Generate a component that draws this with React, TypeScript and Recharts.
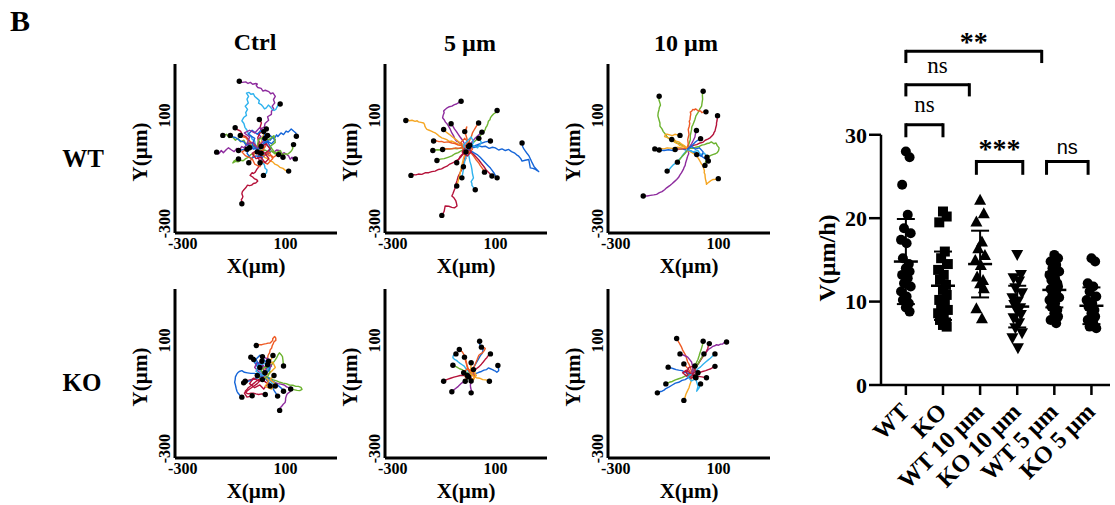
import React from "react";
import {
  ComposedChart,
  Scatter,
  XAxis,
  YAxis,
  ReferenceLine,
  ErrorBar,
} from "recharts";

const SERIF = "'Liberation Serif', 'Times New Roman', serif";
const SANS = "'Liberation Sans', Arial, sans-serif";

type Pt = [number, number];

const PAL = {
  blue: "#1565d8",
  orange: "#ee5a24",
  yellow: "#f5a623",
  purple: "#8e2c9e",
  green: "#6cb32f",
  lblue: "#2fb2ee",
  red: "#b5123a",
};

// ---- cell tracks, x / y in µm ----
const wtCtrlTracks: Pt[][] = [
  [[-8,-20],[2,-5],[-6,10],[4,22],[-5,30],[8,42],[5,50],[18,58],[20,70],[34,82],[30,95],[45,104],[45,115],[54,124],[48,134],[58,146],[53,158],[60,170],[51,183],[42,180],[35,188],[21,193],[12,190],[5,200],[-8,203],[-14,210],[-10,216],[-16,218],[-28,215],[-37,222],[-46,218],[-55,224],[-68,222],[-80,226]],
  [[-12,-22],[-18,-8],[-20,5],[-30,12],[-35,25],[-45,32],[-50,45],[-58,56],[-62,70],[-70,80],[-63,92],[-52,100],[-55,110],[-48,122],[-57,134],[-45,146],[-50,160],[-44,170],[-52,182],[-42,185],[-35,178],[-25,180],[-20,170],[-10,162],[-2,155],[-5,145],[5,140],[10,135],[18,124],[25,128],[33,138],[40,132],[48,122],[55,118],[62,122],[65,128],[72,140],[79,142]],
  [[-8,-28],[-2,-38],[0,-45],[8,-55],[5,-62],[4,-72],[-2,-80],[-6,-92],[-12,-100],[-18,-110],[-25,-115],[-30,-112],[-38,-122],[-28,-128],[-20,-135],[-12,-138],[-8,-143],[-16,-150],[-25,-152],[-32,-158],[-40,-160],[-48,-158],[-55,-168],[-62,-175],[-68,-182],[-70,-190],[-66,-200],[-68,-206],[-72,-212],[-69,-220],[-70,-227]],
  [[-10,-25],[-4,-38],[0,-50],[8,-58],[12,-75],[18,-84],[20,-95],[28,-102],[26,-112],[20,-118],[14,-122]],
  [[-8,-22],[0,-8],[8,-12],[18,2],[25,-5],[35,12],[40,8],[50,20],[55,12],[65,28],[70,22],[82,35],[92,29],[102,42],[110,38],[122,50],[131,42],[140,35],[142,23]],
  [[-6,-28],[5,-30],[15,-35],[25,-45],[35,-42],[45,-32],[55,-36],[65,-28],[75,-30],[85,-42],[95,-38],[105,-45],[112,-50],[118,-62],[125,-55],[132,-64],[138,-61]],
  [[-10,-24],[-22,-14],[-30,-18],[-42,-6],[-50,-8],[-62,-20],[-70,-15],[-80,-28],[-90,-22],[-100,-34],[-110,-28],[-122,-20],[-130,-26],[-142,-38],[-150,-30],[-160,-42],[-168,-36]],
  [[-12,-26],[-22,-10],[-30,-15],[-42,-2],[-55,-5],[-62,8],[-75,2],[-85,15],[-95,8],[-108,22],[-120,18],[-130,30],[-144,26]],
  [[-10,-20],[-20,-12],[-25,-5],[-35,-2],[-42,8],[-48,15],[-55,22],[-65,25],[-70,32],[-75,42],[-82,45],[-90,48],[-96,54]],
  [[-12,-22],[-25,-25],[-35,-18],[-45,-10],[-55,-8],[-62,2],[-75,5],[-85,12],[-95,18],[-105,20],[-115,26]],
  [[-8,-20],[-15,-14],[-20,-8],[-28,-6],[-35,2],[-42,5],[-50,12],[-55,18],[-62,20],[-70,22],[-76,26]],
  [[-10,-28],[-18,-36],[-25,-42],[-35,-45],[-45,-55],[-55,-60],[-65,-68],[-75,-66],[-85,-72],[-95,-70],[-105,-76],[-100,-68],[-95,-66],[-88,-58],[-83,-61]],
  [[-8,-26],[-12,-34],[-18,-40],[-24,-45],[-28,-55],[-32,-62],[-35,-65],[-40,-72],[-43,-75]],
  [[-10,-30],[-4,-42],[-8,-55],[-2,-65],[1,-75]],
  [[-10,-22],[-4,-12],[0,-5],[6,2],[8,12],[12,22],[15,30],[22,40],[25,50]],
  [[-6,-26],[2,-34],[10,-32],[18,-42],[28,-40],[36,-50],[45,-48],[52,-56],[60,-50],[66,-44],[73,-45]],
  [[-8,-30],[0,-40],[10,-45],[18,-55],[30,-60],[40,-68],[50,-72],[58,-80],[70,-85],[78,-92],[90,-96],[100,-104],[112,-106]],
  [[-10,-25],[-28,-20],[-45,-22],[-62,-26],[-83,-30]],
  [[-6,-24],[8,-30],[20,-28],[32,-35],[45,-32],[58,-42],[70,-40],[82,-48],[95,-42],[108,-44],[118,-36],[124,-30],[128,-22],[126,-14],[131,-8]],
  [[-8,-22],[5,-5],[18,10],[30,26]],
  [[-10,-22],[-4,-10],[-5,5],[-8,18],[0,35],[4,48],[2,60],[6,72],[-2,85]],
  [[-12,-18],[0,-10],[15,-20],[25,-10],[10,-30],[-10,-35]],
  [[-5,-20],[20,-5],[40,-20],[25,-45],[5,-40]],
  [[-10,-28],[10,-15],[30,5],[45,-5],[60,10],[40,25],[20,15]],
  [[-10,-25],[-30,-10],[-20,15],[-45,30],[-30,45],[-10,30],[5,45],[20,30],[10,10],[30,0],[45,-20],[30,-40],[10,-55],[-15,-50],[-35,-60],[-50,-40],[-40,-20]],
  [[-5,-30],[15,-50],[35,-35],[50,-60],[30,-80],[10,-70],[0,-90],[-20,-80],[-30,-60],[-55,-50],[-70,-35],[-50,-25]],
  [[-12,-20],[-5,10],[15,20],[35,10],[55,25],[60,0],[40,-15],[60,-40],[80,-30],[90,-55]],
  [[-10,-28],[-30,-40],[-15,-60],[5,-55],[20,-75],[35,-60],[20,-40],[40,-25],[25,-5],[5,-15]],
  [[-8,-22],[-25,0],[-50,-5],[-40,20],[-60,35],[-40,45],[-20,35],[0,55],[15,40]],
];
const wtCtrlColors = [PAL.purple, PAL.lblue, PAL.red, PAL.lblue, PAL.blue, PAL.purple, PAL.purple, PAL.green, PAL.red, PAL.blue, PAL.orange, PAL.green, PAL.orange, PAL.red, PAL.yellow, PAL.orange, PAL.yellow, PAL.blue, PAL.green, PAL.purple, PAL.red, PAL.orange, PAL.lblue, PAL.blue, PAL.blue, PAL.orange, PAL.green, PAL.red, PAL.purple];

const wt5Tracks: Pt[][] = [
  [[-15,-22],[-22,-15],[-30,-10],[-38,-4],[-45,2],[-52,5],[-57,11],[-62,22],[-70,35],[-76,48],[-83,60],[-88,68],[-95,75],[-100,84],[-106,91],[-104,100],[-100,110],[-102,116],[-96,122],[-88,128],[-80,132],[-70,134],[-60,140],[-52,142],[-45,146],[-40,150],[-34,152]],
  [[-12,-18],[-2,-12],[5,-8],[12,0],[20,5],[28,12],[34,17],[40,25],[48,32],[55,40],[60,48],[62,55],[66,60],[70,70],[72,78],[78,84],[80,91],[85,98],[92,105],[100,110],[106,118]],
  [[-18,-18],[-28,-12],[-40,-8],[-55,-2],[-70,5],[-80,4],[-90,10],[-100,14],[-109,17],[-118,22],[-125,28],[-130,32],[-135,35],[-142,38],[-150,42],[-158,45],[-167,48],[-172,55],[-175,60],[-176,66],[-180,72],[-190,74],[-200,76],[-205,80],[-213,78],[-225,82],[-235,80],[-242,84],[-249,81]],
  [[-10,-28],[-18,-38],[-28,-45],[-36,-55],[-44,-63],[-55,-68],[-65,-75],[-78,-80],[-89,-88],[-100,-92],[-110,-98],[-122,-100],[-135,-106],[-148,-108],[-160,-112],[-172,-112],[-187,-118],[-200,-117],[-210,-120],[-220,-119],[-229,-122]],
  [[-15,-25],[-12,-38],[-18,-51],[-20,-62],[-25,-75],[-28,-88],[-31,-100],[-38,-112],[-45,-125],[-50,-142],[-57,-161],[-58,-170],[-62,-180],[-66,-190],[-70,-198],[-62,-205],[-55,-215],[-52,-225],[-50,-235],[-60,-242],[-70,-240],[-82,-236],[-96,-235],[-98,-245],[-100,-255],[-104,-262],[-109,-270]],
  [[-10,-22],[-5,-26],[8,-20],[20,-18],[32,-12],[47,-16],[60,-14],[75,-22],[88,-18],[99,-20],[112,-28],[125,-24],[138,-30],[151,-26],[162,-34],[175,-40],[182,-46],[190,-51],[198,-60],[203,-69],[215,-66],[229,-63],[232,-78],[235,-94],[245,-96],[255,-100],[262,-104],[268,-108],[258,-98],[250,-90],[246,-82],[242,-75],[236,-62],[230,-50],[222,-40],[216,-32],[210,-24],[205,-15],[206,-8],[203,-2]],
  [[-15,-25],[-8,-35],[-5,-45],[-2,-58],[0,-70],[5,-85],[8,-100],[10,-115],[14,-131],[10,-138],[5,-145],[8,-152],[8,-159],[15,-168],[21,-175]],
  [[-20,-18],[-32,-12],[-45,-10],[-58,-4],[-70,-2],[-85,2],[-100,0],[-110,4],[-120,3],[-130,6],[-141,5]],
  [[-18,-15],[-28,-6],[-40,0],[-50,8],[-60,15],[-70,22],[-80,30],[-92,38],[-102,48]],
  [[-15,-15],[-24,0],[-30,10],[-38,20],[-45,30],[-52,40],[-60,50],[-66,60],[-73,69]],
  [[-18,-22],[-35,-20],[-50,-24],[-65,-22],[-80,-25],[-95,-24],[-110,-28],[-128,-27],[-144,-30]],
  [[-15,-20],[-28,-18],[-40,-22],[-55,-20],[-70,-24],[-88,-23],[-106,-26]],
  [[-20,-25],[-32,-30],[-45,-38],[-58,-42],[-70,-50],[-85,-55],[-100,-60],[-115,-62],[-128,-67]],
  [[-18,-28],[-24,-36],[-30,-45],[-38,-52],[-42,-60],[-48,-68],[-51,-75]],
  [[-12,-25],[-20,-45],[-15,-60],[-28,-75],[-25,-90]],
  [[-14,-18],[-10,10],[-18,35],[-12,57],[-20,40]],
  [[-16,-28],[-20,-45],[-25,-60],[-30,-80],[-35,-100],[-38,-115],[-42,-130],[-46,-145],[-51,-161]],
  [[-10,-30],[-14,-50],[-20,-70],[-25,-100],[-31,-131]],
  [[-12,-15],[-4,-2],[0,10],[6,22],[10,35],[16,45],[22,55],[28,64],[34,72]],
  [[-10,-18],[5,-2],[20,15],[35,28],[47,38]],
  [[-8,-20],[20,-12],[40,-5],[60,2],[80,5]],
  [[-10,-26],[0,-36],[10,-45],[18,-55],[25,-65],[34,-75],[40,-85],[50,-98],[57,-110]],
  [[-8,-24],[5,-35],[15,-45],[25,-55],[35,-65],[45,-78],[55,-90],[62,-100],[70,-108],[78,-116],[86,-124]],
  [[-10,-22],[2,-30],[15,-38],[28,-45],[40,-55],[50,-65],[60,-75],[70,-85],[80,-95],[88,-105],[95,-115],[100,-124],[106,-131]],
  [[-14,-20],[10,-10],[30,-20],[45,0],[35,15]],
  [[-18,-20],[-5,0],[-20,15],[-35,0],[-25,-30],[-5,-40],[10,-25],[0,-10]],
  [[-16,-22],[0,-15],[15,0],[5,20],[-10,5],[-25,-10],[-15,-35]],
  [[-18,-20],[-30,-35],[-10,-50],[5,-35],[-5,-15]],
];
const wt5Colors = [PAL.purple, PAL.green, PAL.yellow, PAL.red, PAL.red, PAL.blue, PAL.lblue, PAL.orange, PAL.yellow, PAL.purple, PAL.green, PAL.orange, PAL.green, PAL.red, PAL.orange, PAL.orange, PAL.yellow, PAL.lblue, PAL.orange, PAL.purple, PAL.blue, PAL.orange, PAL.red, PAL.blue, PAL.lblue, PAL.orange, PAL.lblue, PAL.red];

const wt10Tracks: Pt[][] = [
  [[-22,-24],[-30,-16],[-40,-12],[-50,-5],[-63,-2],[-72,5],[-85,10],[-95,15],[-102,23],[-108,32],[-115,40],[-120,50],[-128,60],[-128,72],[-132,85],[-136,98],[-135,109],[-132,120],[-130,130],[-126,138],[-128,146],[-132,158],[-131,171]],
  [[-20,-20],[-15,-5],[-10,10],[-10,25],[-5,48],[-4,58],[0,65],[4,75],[8,85],[12,98],[20,110],[26,122],[34,134],[36,148],[38,160],[37,175],[40,189]],
  [[-22,-22],[-18,-5],[-20,10],[-15,30],[-18,48],[-14,60],[-12,70],[-14,78],[-11,85],[-10,95],[-8,105],[-10,112],[-5,115],[0,122],[5,120],[10,124],[15,121],[22,116],[30,116],[35,110],[40,112],[45,116],[51,113]],
  [[-20,-24],[-8,-16],[5,-10],[15,-8],[28,-2],[38,0],[48,8],[58,12],[67,17],[74,24],[80,30],[82,36],[86,42],[88,50],[90,58],[92,65],[92,72],[94,80],[95,88],[94,94],[96,99]],
  [[-20,-25],[-12,-15],[-5,-5],[2,8],[8,20],[10,32],[14,44]],
  [[-18,-24],[-8,-15],[0,-8],[8,0],[15,5],[22,10],[30,14]],
  [[-22,-28],[-18,-32],[-16,-42],[-20,-50],[-22,-57],[-24,-63],[-28,-75],[-30,-85],[-34,-92],[-37,-100],[-44,-112],[-50,-120],[-56,-130],[-63,-137],[-72,-145],[-80,-152],[-90,-160],[-102,-168],[-110,-175],[-120,-182],[-130,-186],[-141,-192],[-152,-194],[-165,-196],[-178,-198],[-193,-198]],
  [[-24,-22],[-35,-16],[-50,-12],[-58,-5],[-70,0],[-80,8],[-90,15],[-98,18],[-110,22],[-106,30],[-100,30],[-90,28],[-80,25],[-70,30],[-60,28],[-55,24],[-50,26]],
  [[-26,-26],[-42,-20],[-60,-18],[-80,-22],[-100,-20],[-112,-24],[-125,-22],[-136,-26],[-148,-24]],
  [[-26,-28],[-42,-24],[-60,-26],[-78,-30],[-95,-27],[-112,-30],[-131,-28]],
  [[-24,-24],[-35,-22],[-45,-25],[-58,-24],[-69,-26]],
  [[-22,-20],[-34,-12],[-45,-5],[-55,2],[-65,5],[-74,10],[-82,11]],
  [[-24,-30],[-35,-42],[-45,-55],[-55,-65],[-65,-75],[-75,-82],[-85,-92],[-92,-100],[-100,-106]],
  [[-22,-30],[-30,-40],[-40,-50],[-50,-62],[-60,-73]],
  [[-20,-26],[-10,-22],[0,-22],[12,-18],[25,-15],[35,-10],[45,-8],[55,-4],[65,-2],[72,2],[82,-5],[90,-2],[95,-12],[102,-20],[100,-30],[95,-38],[88,-42],[80,-44],[70,-48],[62,-52],[55,-55],[52,-62],[50,-70],[48,-78],[47,-85]],
  [[-18,-28],[-5,-32],[5,-38],[15,-44],[25,-48],[35,-52],[45,-58],[52,-64],[60,-69]],
  [[-20,-30],[-10,-34],[0,-40],[8,-45],[15,-51],[22,-60],[28,-70],[34,-80],[40,-88],[42,-96],[45,-105],[44,-112],[47,-118],[48,-130],[50,-140],[52,-148],[53,-155],[58,-150],[65,-145],[72,-140],[79,-137],[88,-136],[99,-134]],
  [[-24,-26],[0,-35],[20,-30],[30,-45],[45,-40],[55,-55]],
  [[-22,-26],[-5,-15],[10,-25],[25,-20],[40,-35],[35,-50],[15,-45]],
];
const wt10Colors = [PAL.green, PAL.green, PAL.orange, PAL.red, PAL.purple, PAL.blue, PAL.purple, PAL.yellow, PAL.yellow, PAL.blue, PAL.orange, PAL.yellow, PAL.lblue, PAL.green, PAL.green, PAL.blue, PAL.yellow, PAL.lblue, PAL.blue];

const koCtrlTracks: Pt[][] = [
  [[15,-30],[22,-18],[20,-5],[26,8],[25,20],[30,32],[32,45],[38,55],[40,65],[46,72],[48,80],[52,88],[55,95],[62,100],[62,108],[58,114],[55,112],[50,106],[50,100],[44,94],[40,90],[32,90],[25,88],[15,86],[8,84],[-3,84],[-14,81]],
  [[20,-35],[32,-44],[45,-50],[58,-55],[70,-60],[82,-62],[95,-65],[104,-72],[112,-75],[118,-82],[118,-90],[110,-95],[105,-100],[102,-108],[100,-115],[100,-122],[98,-130],[92,-135],[88,-140],[84,-145],[80,-148],[78,-152],[77,-159]],
  [[18,-30],[28,-36],[40,-40],[52,-46],[65,-50],[78,-55],[90,-58],[102,-60],[115,-65],[128,-66],[140,-70],[150,-70],[160,-74],[164,-81],[155,-86],[145,-85],[132,-82],[120,-80]],
  [[15,-28],[2,-28],[-10,-25],[-22,-22],[-35,-22],[-48,-20],[-60,-18],[-70,-12],[-80,-15],[-86,-20],[-90,-25],[-95,-35],[-96,-45],[-98,-55],[-95,-65],[-92,-78],[-89,-88],[-85,-95],[-80,-100],[-76,-105],[-70,-110]],
  [[20,-28],[28,-15],[35,-5],[42,5],[50,15],[58,25],[65,35],[70,45],[76,54],[82,48],[88,40],[90,25],[92,5]],
  [[15,-35],[5,-40],[-5,-45],[-15,-52],[-25,-60],[-35,-68],[-45,-75],[-50,-82],[-57,-88],[-52,-95],[-45,-98],[-35,-95],[-25,-95],[-15,-98],[-5,-100],[8,-98],[21,-100]],
  [[18,-30],[24,-18],[28,-5],[34,8],[38,20],[45,32],[51,44]],
  [[16,-28],[8,-18],[0,-10],[-8,0],[-15,10],[-20,18],[-25,25],[-30,32],[-35,38]],
  [[20,-30],[15,-10],[10,8],[8,23]],
  [[14,-32],[-10,-38],[-35,-45],[-57,-51]],
  [[16,-26],[0,-5],[-12,15],[-24,29]],
  [[20,-28],[28,0],[34,23]],
  [[20,-36],[30,-50],[40,-69]],
  [[22,-34],[40,-50],[60,-69]],
  [[20,-38],[30,-50],[40,-60],[48,-72],[55,-85],[62,-95],[69,-106]],
  [[22,-32],[35,-40],[50,-50],[62,-60],[75,-70],[85,-78],[92,-88]],
  [[14,-32],[-15,-40],[-40,-50],[-63,-57]],
  [[18,-32],[0,-20],[-20,0],[-10,20],[10,10],[30,-10],[45,5],[35,30],[10,40]],
  [[18,-32],[-10,-60],[-40,-80],[-60,-95],[-50,-110],[-30,-105]],
  [[18,-32],[40,-20],[60,0],[50,20],[30,10]],
  [[18,-32],[-5,-50],[-25,-40],[-40,-60],[-20,-75],[0,-65],[15,-80],[30,-60],[10,-45]],
  [[18,-32],[35,-50],[20,-70],[45,-80],[60,-60],[40,-45],[55,-30]],
  [[18,-32],[5,-10],[25,5],[40,-15],[30,-35],[5,-45],[-10,-30]],
  [[18,-32],[-15,-15],[-5,10],[20,15],[35,0],[20,-20]],
  [[18,-32],[40,-5],[20,25],[0,45],[-15,30],[0,0]],
];
const koCtrlColors = [PAL.orange, PAL.purple, PAL.green, PAL.blue, PAL.green, PAL.red, PAL.yellow, PAL.blue, PAL.purple, PAL.red, PAL.lblue, PAL.red, PAL.red, PAL.lblue, PAL.blue, PAL.blue, PAL.blue, PAL.purple, PAL.red, PAL.yellow, PAL.red, PAL.yellow, PAL.green, PAL.lblue, PAL.blue];

const ko5Tracks: Pt[][] = [
  [[2,-24],[10,-12],[15,0],[22,12],[30,25],[36,35],[42,45],[48,52],[50,60],[52,68],[48,75],[44,80],[38,85],[40,92],[38,97]],
  [[0,-22],[-4,-10],[-8,0],[-12,12],[-15,25],[-18,35],[-22,45],[-26,52],[-30,58],[-36,62],[-41,66]],
  [[4,-22],[12,-5],[20,10],[28,28],[35,45],[42,50],[50,55],[56,62],[60,70],[52,74],[45,75]],
  [[4,-24],[15,-15],[25,-5],[35,2],[45,12],[52,20],[60,30],[66,36],[70,42],[75,46],[80,50]],
  [[4,-28],[15,-25],[25,-22],[35,-18],[45,-15],[55,-10],[65,-8],[72,-2],[80,-5],[88,-8],[95,-12],[100,-14],[105,-18],[112,-12],[112,-5],[108,2],[109,7]],
  [[0,-28],[-12,-26],[-25,-30],[-38,-30],[-50,-33],[-62,-36],[-75,-40],[-88,-44],[-102,-51]],
  [[3,-30],[14,-32],[25,-38],[38,-40],[50,-45],[62,-46],[76,-51]],
  [[0,-30],[-10,-40],[-20,-50],[-32,-58],[-45,-70],[-58,-80],[-70,-90]],
  [[2,-30],[6,-42],[5,-55],[2,-65],[3,-75],[6,-85],[5,-94]],
  [[0,-22],[-8,-12],[-15,-5],[-22,5],[-30,10],[-38,15],[-45,20],[-52,26],[-60,30],[-66,36],[-65,42],[-60,48],[-54,50]],
  [[-1,-24],[-10,-20],[-20,-15],[-30,-8],[-40,-5],[-52,2],[-66,8]],
  [[2,-24],[-4,-12],[-10,0],[-14,15],[-18,28],[-21,38]],
  [[2,-26],[4,0],[5,17]],
  [[2,-26],[-10,-22],[-24,-20]],
  [[4,-28],[-5,-40],[-18,-51]],
  [[2,-26],[8,-15],[14,-8]],
  [[2,-26],[20,-30],[15,-45],[-5,-40],[-10,-30]],
  [[2,-26],[-15,-40],[-25,-20],[-10,-5],[10,-15],[20,-35],[5,-50]],
  [[2,-26],[15,-10],[25,-30],[10,-45],[-5,-35]],
];
const ko5Colors = [PAL.blue, PAL.orange, PAL.orange, PAL.red, PAL.blue, PAL.red, PAL.yellow, PAL.purple, PAL.purple, PAL.lblue, PAL.green, PAL.orange, PAL.yellow, PAL.lblue, PAL.green, PAL.red, PAL.yellow, PAL.orange, PAL.yellow];

const ko10Tracks: Pt[][] = [
  [[-4,-24],[-6,-12],[-10,0],[-14,10],[-20,20],[-24,32],[-28,45],[-34,55],[-40,65],[-44,75],[-50,85],[-54,92],[-58,98],[-60,104],[-63,107]],
  [[-2,-22],[6,-8],[15,5],[22,15],[28,25],[34,35],[40,45],[48,52],[55,60],[62,68],[70,72],[78,78],[85,80],[92,84],[100,82],[108,86],[115,86],[122,92],[131,94]],
  [[-3,-22],[5,-10],[12,0],[18,10],[25,20],[32,30],[38,38],[44,48],[50,55],[54,62],[58,70],[60,80],[64,88]],
  [[-4,-22],[2,-8],[8,5],[14,18],[20,30],[24,42],[28,55],[32,65],[35,75],[38,85],[40,97]],
  [[-6,-24],[0,0],[-5,20],[-20,38],[-35,45],[-50,50]],
  [[-2,-24],[10,-15],[20,-5],[30,2],[40,12],[50,20],[60,28],[68,34],[75,40],[80,45],[86,50]],
  [[-6,-28],[-18,-38],[-30,-45],[-42,-48],[-55,-55],[-68,-58],[-80,-65],[-92,-72],[-105,-78],[-112,-84],[-120,-88],[-130,-90],[-138,-94]],
  [[-6,-26],[-18,-28],[-30,-32],[-42,-38],[-55,-42],[-68,-46],[-80,-52],[-92,-55],[-105,-61]],
  [[-5,-30],[-6,-42],[-8,-55],[-12,-65],[-15,-75],[-20,-85],[-25,-95],[-28,-102],[-30,-110],[-33,-116],[-35,-122]],
  [[-4,-28],[12,-45],[20,-70],[15,-88],[25,-75],[30,-61]],
  [[-6,-24],[-18,-22],[-30,-18],[-42,-12],[-55,-10],[-65,-8],[-75,-5],[-85,-2],[-96,1]],
  [[-3,-26],[10,-24],[25,-20],[38,-15],[50,-12],[60,-8],[70,-5],[78,0],[86,4]],
  [[-4,-28],[15,-32],[35,-35],[53,-38]],
  [[-5,-24],[-15,-10],[-25,2],[-35,13]],
  [[-3,-24],[15,5],[30,30],[43,50]],
  [[-5,-26],[5,-10],[8,5]],
  [[-5,-26],[-25,-10],[-40,-20],[-20,-35],[0,-30],[12,-38]],
  [[-5,-26],[10,-15],[5,5],[-15,0],[-25,-20],[-10,-40],[10,-35]],
  [[-5,-26],[-20,-35],[-5,-50],[15,-40],[20,-20]],
];
const ko10Colors = [PAL.orange, PAL.purple, PAL.red, PAL.green, PAL.purple, PAL.lblue, PAL.blue, PAL.green, PAL.yellow, PAL.lblue, PAL.blue, PAL.red, PAL.red, PAL.orange, PAL.green, PAL.purple, PAL.red, PAL.red, PAL.lblue];

// ---- speed, µm/h ----
const groups = ["WT", "KO", "WT 10 µm", "KO 10 µm", "WT 5 µm", "KO 5 µm"];
const wtV = [28.0, 27.3, 24.0, 20.4, 18.8, 18.2, 17.4, 17.0, 15.2, 14.5, 14.0, 13.6, 13.2, 12.8, 12.2, 11.8, 11.2, 10.6, 10.2, 9.8, 9.3, 8.8];
const koV = [20.8, 20.2, 19.5, 16.0, 15.2, 14.5, 13.8, 13.2, 12.6, 12.0, 11.4, 10.8, 10.2, 9.8, 9.4, 9.0, 8.6, 8.2, 7.8, 7.5, 7.2, 7.0];
const wt10V = [22.2, 20.6, 19.6, 17.2, 16.4, 15.6, 15.0, 14.4, 13.0, 12.6, 12.2, 11.6, 9.2, 8.0];
const ko10V = [15.6, 13.2, 12.8, 12.4, 11.6, 11.0, 10.4, 10.0, 9.6, 9.2, 8.8, 8.4, 8.0, 7.4, 6.8, 6.2, 5.6, 4.4];
const wt5V = [15.6, 15.2, 14.8, 14.4, 14.0, 13.6, 13.2, 12.8, 12.6, 12.2, 12.0, 11.8, 11.5, 11.2, 10.8, 10.5, 10.2, 9.8, 9.4, 9.0, 8.6, 8.2, 7.8, 7.4];
const ko5V = [15.2, 14.8, 12.2, 11.8, 11.2, 10.6, 10.2, 9.8, 9.4, 9.0, 8.6, 8.2, 7.8, 7.4, 7.0, 6.8];
const groupMeans = [14.8, 11.9, 14.5, 9.4, 11.4, 9.5];
const groupSds = [5.1, 4.1, 4.0, 2.5, 2.1, 2.2];

// significance brackets (x in group index, y in µm/h)
const bracketX1 = [0, 0, 0, 1.9, 3.79];
const bracketX2 = [3.66, 1.71, 1.0, 3.15, 4.91];
const bracketY = [40.0, 36.0, 31.2, 26.8, 26.8];
const bracketLeg = [38.6, 34.6, 29.7, 25.2, 25.2];
const bracketText = ["**", "ns", "ns", "***", "ns"];
const bracketTextY = [40.1, 37.4, 32.7, 27.2, 27.7];

const JIT = [0, 0.1, -0.1, 0.05, -0.05, 0.13, -0.13, 0.02, -0.08, 0.08];

const noShape = () => <g />;
const endDot = (p: any) => <circle cx={p.cx} cy={p.cy} r={2.7} fill="#000" />;

const axisStroke = { stroke: "#000", strokeWidth: 3 };

function PanelXTick(p: any) {
  return (
    <text x={p.x} y={p.y + 12} textAnchor="middle" fontFamily={SERIF} fontWeight="bold" fontSize={16} fill="#000">
      {p.payload.value}
    </text>
  );
}
function PanelYTick(p: any) {
  return (
    <text x={p.x} y={p.y} transform={`rotate(-90 ${p.x} ${p.y})`} textAnchor="middle" fontFamily={SERIF} fontWeight="bold" fontSize={16} fill="#000">
      {p.payload.value}
    </text>
  );
}

function TrackPanel({ tracks, colors, left, top }: { tracks: Pt[][]; colors: string[]; left: number; top: number }) {
  const ends = tracks.map((t) => ({ x: t[t.length - 1][0], y: t[t.length - 1][1] }));
  return (
    <div style={{ position: "absolute", left: left - 50, top: top - 10 }}>
      <ComposedChart width={222} height={224} margin={{ top: 10, right: 10, bottom: 0, left: 0 }}>
        <XAxis type="number" dataKey="x" domain={[-330, 300]} ticks={[-300, 100]} allowDataOverflow interval={0}
          height={45} tickLine={false} tickSize={0} tickMargin={4} axisLine={axisStroke} tick={PanelXTick} />
        <YAxis type="number" dataKey="y" domain={[-335, 290]} ticks={[-300, 100]} allowDataOverflow interval={0}
          width={50} tickLine={false} tickSize={0} tickMargin={5} axisLine={axisStroke} tick={PanelYTick} />
        {tracks.map((t, i) => (
          <Scatter key={i} data={t.map(([x, y]) => ({ x, y }))} shape={noShape}
            line={{ stroke: colors[i % colors.length], strokeWidth: 1.4, strokeLinejoin: "round" }}
            isAnimationActive={false} />
        ))}
        <Scatter data={ends} shape={endDot} isAnimationActive={false} />
      </ComposedChart>
    </div>
  );
}

const circleShape = (p: any) => <circle cx={p.cx} cy={p.cy} r={5} fill="#000" />;
const squareShape = (p: any) => <rect x={p.cx - 5} y={p.cy - 5} width={10} height={10} fill="#000" />;
const triUpShape = (p: any) => (
  <polygon points={`${p.cx},${p.cy - 6} ${p.cx + 6},${p.cy + 5} ${p.cx - 6},${p.cy + 5}`} fill="#000" />
);
const triDownShape = (p: any) => (
  <polygon points={`${p.cx},${p.cy + 6} ${p.cx + 6},${p.cy - 5} ${p.cx - 6},${p.cy - 5}`} fill="#000" />
);
const meanShape = (p: any) => (
  <line x1={p.cx - 12} x2={p.cx + 12} y1={p.cy} y2={p.cy} stroke="#000" strokeWidth={2.5} />
);
const labelShape = (p: any) => {
  const t = p.payload.text;
  const star = t.indexOf("*") >= 0;
  const sans = p.payload.i === 4;
  return (
    <text x={p.cx} y={p.cy} textAnchor="middle" fontFamily={sans ? SANS : SERIF}
      fontWeight={star ? "bold" : "normal"} fontSize={star ? 28 : sans ? 20 : 23} fill="#000">
      {t}
    </text>
  );
};

function CatTick(p: any) {
  const ax = p.x + 5;
  const ay = p.y + 16;
  return (
    <text x={ax} y={ay} transform={`rotate(-45 ${ax} ${ay})`} textAnchor="end" fontFamily={SERIF}
      fontWeight="bold" fontSize={24} fill="#000">
      {groups[p.payload.value]}
    </text>
  );
}

function SpeedPlot() {
  const series = [wtV, koV, wt10V, ko10V, wt5V, ko5V];
  const shapes = [circleShape, squareShape, triUpShape, triDownShape, circleShape, circleShape];
  const means = groupMeans.map((m, i) => ({ x: i, y: m, sd: groupSds[i] }));
  const labels = bracketText.map((t, i) => ({
    x: (bracketX1[i] + bracketX2[i]) / 2,
    y: bracketTextY[i],
    text: t,
    i,
  }));
  const bs = { stroke: "#000", strokeWidth: 3 };
  return (
    <div style={{ position: "absolute", left: 790, top: 0 }}>
      <ComposedChart width={325} height={505} margin={{ top: 18, right: 5, bottom: 20, left: 31 }}>
        <XAxis type="number" dataKey="x" domain={[-0.67, 5.5]} ticks={[0, 1, 2, 3, 4, 5]} allowDataOverflow interval={0}
          height={100} tickSize={10} tickMargin={2} axisLine={{ stroke: "#000", strokeWidth: 2.5 }}
          tickLine={{ stroke: "#000", strokeWidth: 2.5 }} tick={CatTick} />
        <YAxis type="number" dataKey="y" domain={[0, 44]} ticks={[0, 10, 20, 30]} allowDataOverflow interval={0}
          width={60} axisLine={false} tickSize={12} tickMargin={2}
          tickLine={{ stroke: "#000", strokeWidth: 2.5 }}
          tick={{ fontFamily: SERIF, fontWeight: "bold", fontSize: 22, fill: "#000" }} />
        <ReferenceLine segment={[{ x: -0.67, y: 0 }, { x: -0.67, y: 30 }]} {...bs} strokeWidth={2.5} />
        {bracketText.map((_, i) => (
          <ReferenceLine key={"t" + i} segment={[{ x: bracketX1[i], y: bracketY[i] }, { x: bracketX2[i], y: bracketY[i] }]} {...bs} />
        ))}
        {bracketText.map((_, i) => (
          <ReferenceLine key={"l" + i} segment={[{ x: bracketX1[i], y: bracketY[i] + 0.18 }, { x: bracketX1[i], y: bracketLeg[i] }]} {...bs} />
        ))}
        {bracketText.map((_, i) => (
          <ReferenceLine key={"r" + i} segment={[{ x: bracketX2[i], y: bracketY[i] + 0.18 }, { x: bracketX2[i], y: bracketLeg[i] }]} {...bs} />
        ))}
        {series.map((vals, g) => (
          <Scatter key={g} data={vals.map((v, k) => ({ x: g + JIT[k % JIT.length], y: v }))}
            shape={shapes[g]} isAnimationActive={false} />
        ))}
        <Scatter data={means} shape={meanShape} isAnimationActive={false}>
          <ErrorBar dataKey="sd" direction="y" width={9} stroke="#000" strokeWidth={2} />
        </Scatter>
        <Scatter data={labels} shape={labelShape} isAnimationActive={false} />
      </ComposedChart>
    </div>
  );
}

function Txt({ x, y, size, rot, children }: { x: number; y: number; size: number; rot?: boolean; children: React.ReactNode }) {
  return (
    <div style={{
      position: "absolute", left: x, top: y, fontSize: size, fontWeight: 700, lineHeight: 1,
      whiteSpace: "nowrap", transform: `translate(-50%, -50%)${rot ? " rotate(-90deg)" : ""}`,
    }}>
      {children}
    </div>
  );
}

const panelLefts = [175, 385, 608];
const panelTops = [64, 289];

export default function App() {
  const rows = [
    [wtCtrlTracks, wt5Tracks, wt10Tracks],
    [koCtrlTracks, ko5Tracks, ko10Tracks],
  ];
  const cols = [
    [wtCtrlColors, wt5Colors, wt10Colors],
    [koCtrlColors, ko5Colors, ko10Colors],
  ];
  return (
    <div style={{ position: "absolute", left: 0, top: 0, width: 1115, height: 505, background: "#fff", fontFamily: SERIF, color: "#000", overflow: "hidden" }}>
      <div style={{ position: "absolute", left: 10, top: 6, fontSize: 30, fontWeight: 700, lineHeight: 1 }}>B</div>
      <Txt x={255} y={42} size={24}>Ctrl</Txt>
      <Txt x={470} y={43} size={24}>5 µm</Txt>
      <Txt x={686} y={43} size={24}>10 µm</Txt>
      <Txt x={83} y={158} size={25}>WT</Txt>
      <Txt x={82} y={382} size={25}>KO</Txt>
      {rows.map((r, ri) =>
        r.map((tracks, ci) => (
          <React.Fragment key={ri + "-" + ci}>
            <TrackPanel tracks={tracks} colors={cols[ri][ci]} left={panelLefts[ci]} top={panelTops[ri]} />
            <Txt x={panelLefts[ci] + 81} y={panelTops[ri] + 202} size={21}>X(µm)</Txt>
            <Txt x={panelLefts[ci] - 35} y={panelTops[ri] + 88} size={21} rot>Y(µm)</Txt>
          </React.Fragment>
        ))
      )}
      <SpeedPlot />
      <Txt x={827} y={258} size={24} rot>V(µm/h)</Txt>
    </div>
  );
}
